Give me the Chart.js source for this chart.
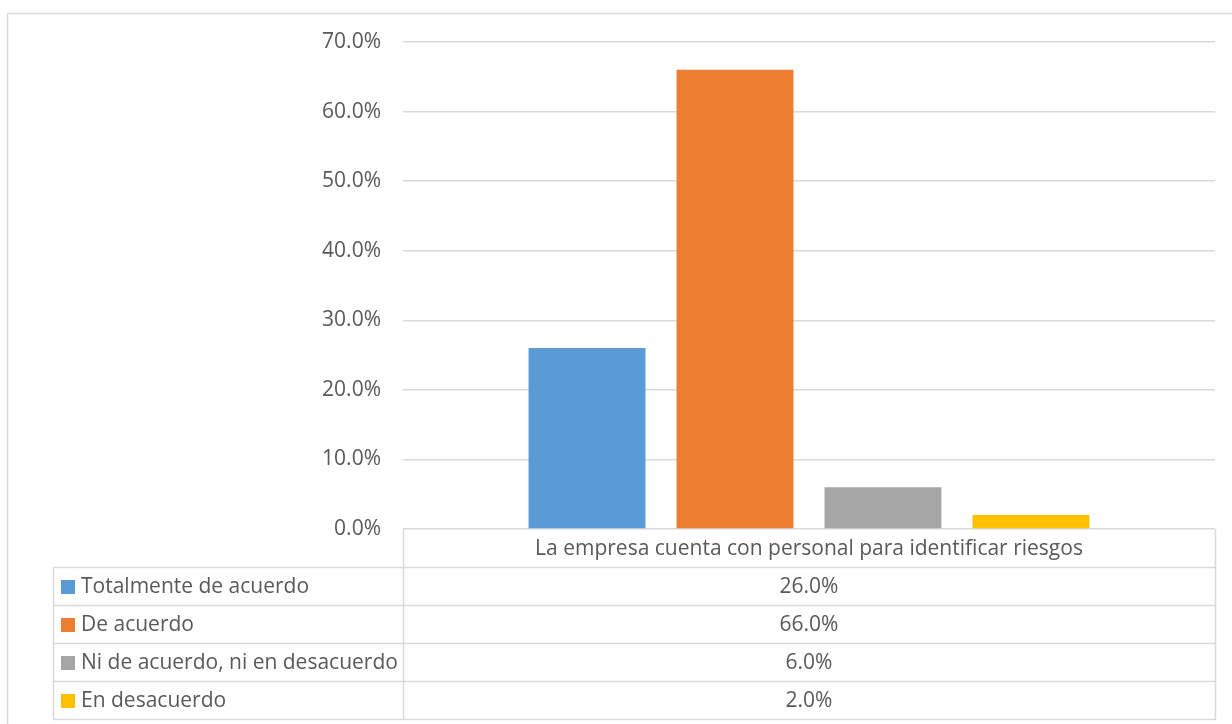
<!DOCTYPE html>
<html>
<head>
<meta charset="utf-8">
<script src="https://cdn.jsdelivr.net/npm/chart.js@4.4.0/dist/chart.umd.min.js"></script>
<style>
  html, body { margin: 0; padding: 0; background: #fff; }
  #wrap { width: 1232px; height: 724px; position: relative; }
</style>
</head>
<body>
<div id="wrap"><canvas id="riesgosChart"></canvas></div>
<script>
// datos del gráfico
const categories = ['La empresa cuenta con personal para identificar riesgos'];
const seriesNames = ['Totalmente de acuerdo', 'De acuerdo', 'Ni de acuerdo, ni en desacuerdo', 'En desacuerdo'];
const seriesValues = [26.0, 66.0, 6.0, 2.0];
const seriesColors = ['#5B9BD5', '#ED7D31', '#A5A5A5', '#FFC000'];
const yTickMax = 70;
const yTickStep = 10;

const FONT = '"Open Sans", "Noto Sans", sans-serif';
const FONT_SIZE = 21;
const TEXT_COLOR = '#595959';
const LINE_COLOR = '#d9d9d9';

function pct(v) {
    return v.toFixed(1) + '%';
}

// tabla de datos debajo del gráfico (como en Excel)
const dataTablePlugin = {
    id: 'dataTable',
    beforeDraw: function (chart) {
        const ctx = chart.ctx;
        ctx.save();
        ctx.fillStyle = '#fff';
        ctx.fillRect(0, 0, chart.width, chart.height);
        // borde exterior del área del gráfico
        ctx.strokeStyle = LINE_COLOR;
        ctx.lineWidth = 1.5;
        ctx.strokeRect(7.5, 13.5, chart.width + 10, chart.height + 10);
        ctx.restore();
    },
    afterDraw: function (chart) {
        const ctx = chart.ctx;
        const area = chart.chartArea;
        const xScale = chart.scales.x;
        const rowH = 38;
        const leftX = 53;
        const top = Math.round(area.bottom);
        const left = Math.round(area.left);
        const right = Math.round(area.right);
        const nRows = seriesNames.length;

        ctx.save();
        ctx.strokeStyle = LINE_COLOR;
        ctx.lineWidth = 1.5;
        ctx.beginPath();
        // fila de encabezado
        ctx.moveTo(left + 0.5, top);
        ctx.lineTo(left + 0.5, top + rowH * (nRows + 1));
        ctx.moveTo(right + 0.5, top);
        ctx.lineTo(right + 0.5, top + rowH * (nRows + 1));
        for (let i = 1; i <= nRows + 1; i++) {
            const y = top + rowH * i + 0.5;
            ctx.moveTo(leftX, y);
            ctx.lineTo(right + 1, y);
        }
        ctx.moveTo(leftX + 0.5, top + rowH);
        ctx.lineTo(leftX + 0.5, top + rowH * (nRows + 1));
        ctx.stroke();

        ctx.font = FONT_SIZE + 'px ' + FONT;
        ctx.fillStyle = TEXT_COLOR;
        ctx.textBaseline = 'middle';

        // encabezado con la categoría
        ctx.textAlign = 'center';
        categories.forEach(function (cat, ci) {
            const cx = xScale.getPixelForValue(ci);
            ctx.fillText(cat, cx, top + rowH / 2 + 1);
        });

        // filas de series
        seriesNames.forEach(function (name, i) {
            const cy = top + rowH * (i + 1) + rowH / 2 + 1;
            ctx.fillStyle = seriesColors[i];
            ctx.fillRect(61, cy - 7, 14, 14);
            ctx.fillStyle = TEXT_COLOR;
            ctx.textAlign = 'left';
            ctx.fillText(name, 81, cy);
            ctx.textAlign = 'center';
            categories.forEach(function (cat, ci) {
                ctx.fillText(pct(seriesValues[i]), xScale.getPixelForValue(ci), cy);
            });
        });
        ctx.restore();
    }
};

document.addEventListener('DOMContentLoaded', function () {
    const el = document.getElementById('riesgosChart');

    const data = {
        labels: categories,
        datasets: seriesNames.map(function (name, i) {
            return {
                label: name,
                data: [seriesValues[i]],
                backgroundColor: seriesColors[i],
                borderWidth: 0,
                categoryPercentage: 0.729,
                barPercentage: 0.79
            };
        })
    };

    new Chart(el, {
        type: 'bar',
        data: data,
        plugins: [dataTablePlugin],
        options: {
            responsive: true,
            maintainAspectRatio: false,
            animation: false,
            layout: {
                padding: { left: 0, right: 17, top: 42, bottom: 195 }
            },
            plugins: {
                legend: { display: false },
                tooltip: { enabled: false }
            },
            scales: {
                x: {
                    display: false
                },
                y: {
                    min: 0,
                    max: yTickMax,
                    border: { display: false },
                    grid: {
                        color: LINE_COLOR,
                        lineWidth: 1.5,
                        drawTicks: false
                    },
                    ticks: {
                        stepSize: yTickStep,
                        padding: 22,
                        color: TEXT_COLOR,
                        font: { family: FONT, size: FONT_SIZE },
                        callback: function (v) { return pct(v); }
                    },
                    afterFit: function (scale) {
                        scale.width = 403;
                    }
                }
            }
        }
    });
});
</script>
</body>
</html>
